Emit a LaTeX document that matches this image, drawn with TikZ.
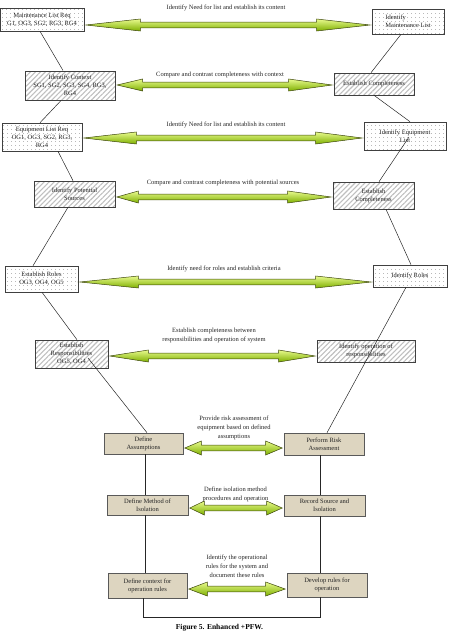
\documentclass[tikz,border=0pt]{standalone}
\usepackage{fontspec}
\setmainfont{Liberation Serif}
\usetikzlibrary{calc, patterns.meta}

\definecolor{tanfill}{RGB}{221,213,192}
\definecolor{arrowtop}{RGB}{232,250,140}
\definecolor{arrowbot}{RGB}{125,175,0}
\definecolor{arrowline}{RGB}{60,70,10}

% #1 from, #2 to, #3 level, #4 left head, #5 right head, #6 head half width
\newcommand\linkarrow[6]{%
  \path[flowarrow] let \p1=(#1.east |- 0,#3), \p2=(#2.west |- 0,#3) in
    (\x1+1.5pt,\y1) -- (\x1+#4,\y1+#6) -- (\x1+#4,\y1+2.8pt) -- (\x2-#5,\y1+2.8pt)
    -- (\x2-#5,\y1+#6) -- (\x2-1.5pt,\y1) -- (\x2-#5,\y1-#6) -- (\x2-#5,\y1-2.8pt)
    -- (\x1+#4,\y1-2.8pt) -- (\x1+#4,\y1-#6) -- cycle;}

\begin{document}
\begin{tikzpicture}[x=1pt, y=-1pt,
    box/.style={draw=black!75, line width=0.6pt, align=center, inner sep=1pt,
      text=black!85, font=\fontsize{6.5}{8}\selectfont},
    dotbox/.style={box, pattern={Dots[distance=4pt, radius=0.4pt]}, pattern color=black!65},
    hatchbox/.style={box, pattern={Lines[angle=45, distance=3.5pt, line width=1.1pt]}, pattern color=black!25},
    tanbox/.style={box, draw=black!65, fill=tanfill},
    lbl/.style={align=center, inner sep=0pt, text=black!85, font=\fontsize{6.5}{9}\selectfont},
    flowarrow/.style={draw=arrowline, line width=0.5pt, top color=arrowtop, bottom color=arrowbot},
    link/.style={draw=black!85, line width=0.5pt}]
    \useasboundingbox (0,0) rectangle (452,637);

    % upper part
    \node[dotbox, minimum width=84, minimum height=23] (mlist) at (42,19.5) {Maintenance List Req\\G1, OG3, SG2, RG3, RG4};
    \node[dotbox, minimum width=72, minimum height=25, align=left] (imlist) at (408,21.5) {Identify\\Maintenance List};
    \node[hatchbox, minimum width=90, minimum height=29] (ictx) at (70,85.5) {Identify Context\\SG1, SG2, SG3, SG4, RG3,\\RG4};
    \node[hatchbox, minimum width=80, minimum height=22] (ecomp1) at (374,84) {Establish Completeness};
    \node[dotbox, minimum width=80, minimum height=28] (eqreq) at (42,137) {Equipment List Req\\OG1, OG3, SG2, RG3,\\RG4};
    \node[dotbox, minimum width=82, minimum height=28] (ieq) at (405,136) {Identify Equipment\\List};
    \node[hatchbox, minimum width=81, minimum height=26] (ipot) at (74.5,194) {Identify Potential\\Sources};
    \node[hatchbox, minimum width=81, minimum height=27] (ecomp2) at (373.5,195.5) {Establish\\Completeness};
    \node[dotbox, minimum width=73, minimum height=26] (eroles) at (41.5,279) {Establish Roles\\OG3, OG4, OG5};
    \node[dotbox, minimum width=74, minimum height=22] (iroles) at (410,276) {Identify Roles};
    \node[hatchbox, minimum width=73, minimum height=28] (eresp) at (71.5,354) {Establish\\Responsibilities\\OG5, OG4};
    \node[hatchbox, minimum width=98, minimum height=22] (iop) at (366,351) {Identify operation of\\responsibilities};

    % lower part
    \node[tanbox, minimum width=79, minimum height=21] (defass) at (143.5,443.5) {Define\\Assumptions};
    \node[tanbox, minimum width=80, minimum height=22] (perisk) at (324,444) {Perform Risk\\Assessment};
    \node[tanbox, minimum width=81, minimum height=20] (defmeth) at (147.5,505) {Define Method of\\Isolation};
    \node[tanbox, minimum width=81, minimum height=21] (recsrc) at (324.5,505.5) {Record Source and\\Isolation};
    \node[tanbox, minimum width=79, minimum height=25] (defctx) at (147.5,585.5) {Define context for\\operation rules};
    \node[tanbox, minimum width=80, minimum height=24] (devrules) at (327,585) {Develop rules for\\operation};

    % labels
    \node[lbl] (l1) at (226,7.5) {Identify Need for list and establish its content};
    \node[lbl] (l2) at (220,75) {Compare and contrast completeness with context};
    \node[lbl] (l3) at (226,125) {Identify Need for list and establish its content};
    \node[lbl] (l4) at (223,183) {Compare and contrast completeness with potential sources};
    \node[lbl] (l5) at (224,269) {Identify need for roles and establish criteria};
    \node[lbl] (l6) at (214,335) {Establish completeness between\\responsibilities and operation of system};
    \node[lbl] (l7) at (234,428) {Provide risk assessment of\\equipment based on defined\\assumptions};
    \node[lbl] (l8) at (235.5,494) {Define isolation method\\procedures and operation};
    \node[lbl] (l9) at (237,566) {Identify the operational\\rules for the system and\\document these rules};
    \node[font=\fontsize{7.5}{9}\selectfont\bfseries, inner sep=0pt] (cap) at (219.5,628) {Figure 5. Enhanced +PFW.};

    % arrows
    \linkarrow{mlist}{imlist}{25}{56pt}{55pt}{6pt}
    \linkarrow{ictx}{ecomp1}{85}{27pt}{45pt}{6pt}
    \linkarrow{eqreq}{ieq}{138}{54pt}{48pt}{6pt}
    \linkarrow{ipot}{ecomp2}{197}{23pt}{45pt}{6pt}
    \linkarrow{eroles}{iroles}{282}{60pt}{57pt}{6pt}
    \linkarrow{eresp}{iop}{356}{40pt}{38pt}{6pt}
    \linkarrow{defass}{perisk}{448}{18pt}{18pt}{7pt}
    \linkarrow{defmeth}{recsrc}{508}{16pt}{17pt}{7pt}
    \linkarrow{defctx}{devrules}{589}{20pt}{21pt}{7pt}

    % zigzag links
    \draw[link] ([xshift=-2]mlist.south) -- ([xshift=-7]ictx.north);
    \draw[link] ([xshift=-9]ictx.south) -- ([xshift=-2]eqreq.north);
    \draw[link] ([xshift=16]eqreq.south) -- ([xshift=-1.5]ipot.north);
    \draw[link] ([xshift=-6.5]ipot.south) -- ([xshift=-8.5]eroles.north);
    \draw[link] ([xshift=0.5]eroles.south) -- ([xshift=5.5]eresp.north);
    \draw[link] ($(eresp.center)+(16.5,4)$) -- ([xshift=3.5]defass.north);
    \draw[link] ([xshift=-7]imlist.south) -- ([xshift=-3]ecomp1.north);
    \draw[link] (ecomp1.south) -- ([xshift=5]ieq.north);
    \draw[link] ($(ieq.center)+(4,1)$) -- ([xshift=5.5]ecomp2.north);
    \draw[link] ([xshift=12.5]ecomp2.south) -- ([xshift=1]iroles.north);
    \draw[link] ([xshift=-4]iroles.south) -- ([xshift=3]perisk.north);

    % straight links
    \draw[link] ($(defass.south)+(1.5,0)$) -- ($(defass.south |- defmeth.north)+(1.5,0)$);
    \draw[link] ($(perisk.south)+(-4,0)$) -- ($(perisk.south |- recsrc.north)+(-4,0)$);
    \draw[link] ($(defmeth.south)+(-2.5,0)$) -- ($(defmeth.south |- defctx.north)+(-2.5,0)$);
    \draw[link] ($(recsrc.south)+(-4.5,0)$) -- ($(recsrc.south |- devrules.north)+(-4.5,0)$);
    \draw[link] ($(defctx.south)+(-4.5,0)$) |- ($(devrules.south)+(-7,20)$) -- ($(devrules.south)+(-7,0)$);
\end{tikzpicture}
\end{document}
